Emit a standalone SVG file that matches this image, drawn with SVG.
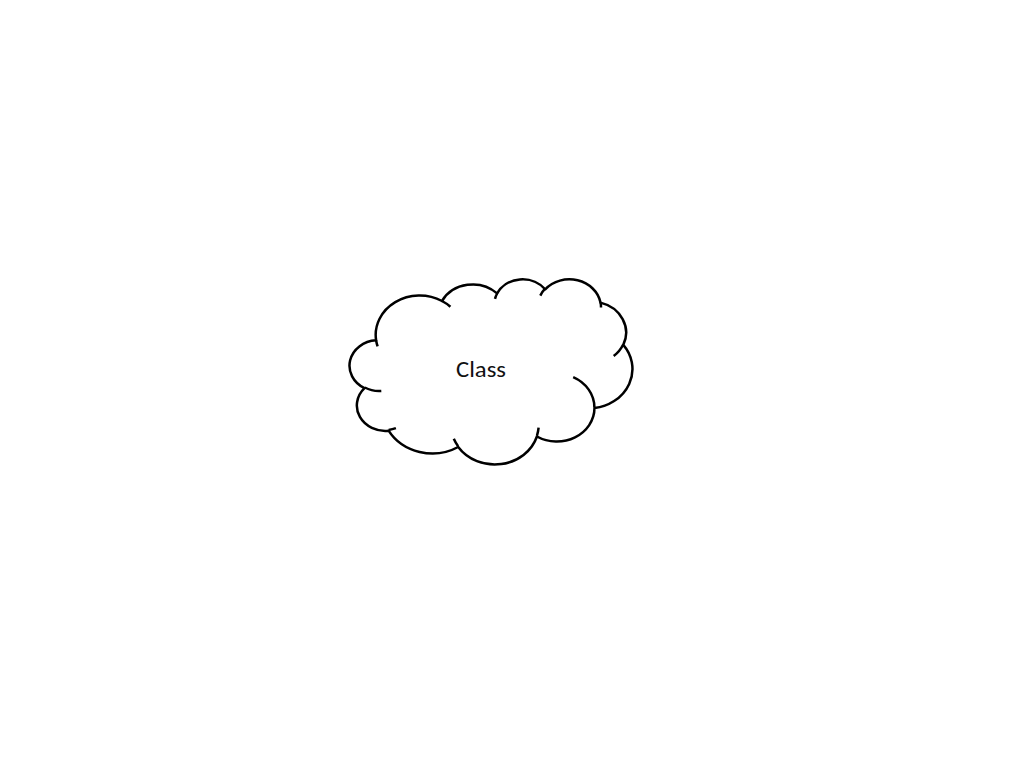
<svg xmlns="http://www.w3.org/2000/svg" width="1024" height="768" viewBox="0 0 1024 768">
  <style>
    .cloud { fill: #FFFFFF; stroke: #000000; stroke-width: 2.5; stroke-linejoin: round; }
    .inner { fill: none; stroke: #000000; stroke-width: 2.5; stroke-linecap: butt; }
    .label { font-family: Calibri, Carlito, "Open Sans", sans-serif; font-size: 22px; fill: #111111; }
  </style>
  <rect x="0" y="0" width="1024" height="768" fill="#FFFFFF"/>
  <g id="node-class">
    <path class="cloud" d="M376.1,340.3
      A44.02,39.38 0 0 1 442.0,301.0
      A34.77,31.14 0 0 1 497.1,293.4
      A28.46,25.47 0 0 1 545.2,289.3
      A31.66,28.26 0 0 1 600.5,302.6
      A34.77,31.16 0 0 1 623.3,344.9
      A44.17,39.51 0 0 1 594.5,408.1
      A37.71,33.71 0 0 1 536.9,436.5
      A44.02,39.49 0 0 1 458.2,447.0
      A50.33,45.18 0 0 1 388.6,430.7
      A28.42,25.36 0 0 1 364.5,388.2
      A28.33,25.47 0 0 1 376.1,340.3 Z"/>
    <path class="inner" d="M381.3,390.9 A28.33,25.47 0 0 1 364.8,387.5
      M395.9,428.2 A28.42,25.36 0 0 1 388.6,429.9
      M458.1,446.2 A44.02,39.49 0 0 1 453.8,438.7
      M538.6,427.6 A44.02,39.49 0 0 1 536.9,435.8
      M573.2,377.1 A37.71,33.71 0 0 1 594.4,407.6
      M623.2,344.5 A34.77,31.16 0 0 1 613.7,356.0
      M600.5,302.0 A31.66,28.26 0 0 1 601.0,307.4
      M540.3,295.6 A31.66,28.26 0 0 1 545.1,288.7
      M495.0,298.9 A28.46,25.47 0 0 1 497.4,293.0
      M442.0,301.0 A44.02,39.38 0 0 1 450.4,306.7
      M377.6,346.4 A44.02,39.38 0 0 1 376.1,340.3"/>
    <text class="label" x="481" y="376.5" text-anchor="middle" textLength="50" lengthAdjust="spacingAndGlyphs">Class</text>
  </g>
  <g id="connectors"/>
</svg>
